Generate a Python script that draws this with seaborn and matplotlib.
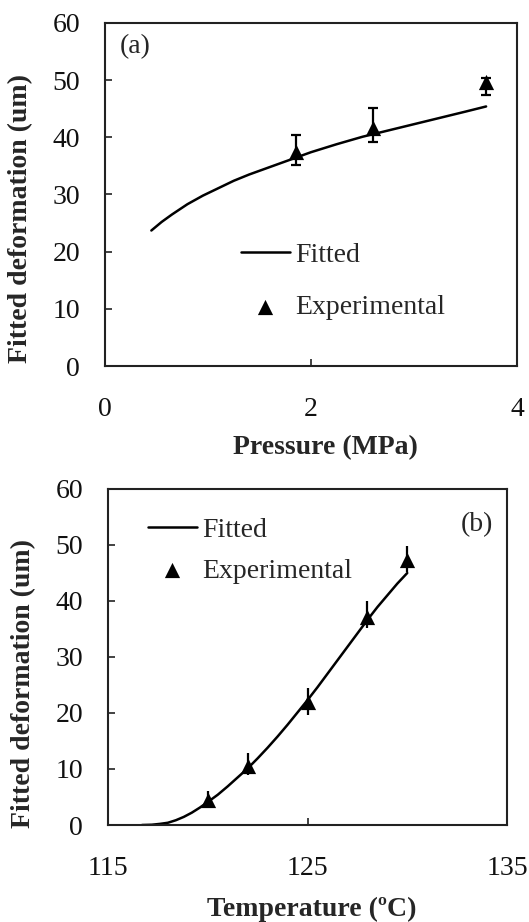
import numpy as np
import pandas as pd
import matplotlib
matplotlib.use("Agg")
import matplotlib.pyplot as plt
import seaborn as sns

# ---------------- data (a) ----------------
pressure_fit = [0.45, 0.55, 0.65, 0.8, 0.95, 1.1, 1.25, 1.4, 1.6, 1.8, 2.0, 2.25, 2.5, 2.75, 3.0, 3.25, 3.5, 3.7]
deform_fit_a = [23.7, 25.2, 26.5, 28.3, 29.8, 31.1, 32.4, 33.5, 34.8, 36.1, 37.4, 38.8, 40.1, 41.2, 42.3, 43.4, 44.5, 45.4]
pressure_exp = [1.85, 2.6, 3.7]
deform_exp_a = [37.4, 41.6, 49.7]
err_low_a = [2.2, 2.5, 2.3]
err_high_a = [3.0, 3.5, 0.6]

# ---------------- data (b) ----------------
temp_fit = [116.7, 117.2, 117.6, 118.0, 118.4, 118.8, 119.2, 119.6, 120.0, 120.5, 121.0, 121.5, 122.0,
            122.5, 123.0, 123.5, 124.0, 124.5, 125.0, 125.5, 126.0, 126.5, 127.0, 127.5, 128.0,
            128.5, 129.0, 129.5, 130.0]
deform_fit_b = [0.0, 0.05, 0.2, 0.4, 0.85, 1.45, 2.2, 3.1, 4.1, 5.4, 6.9, 8.5, 10.1,
                11.9, 13.8, 15.8, 17.9, 20.1, 22.3, 24.6, 27.0, 29.4, 31.8, 34.2, 36.6,
                38.9, 41.0, 43.1, 45.0]
temp_exp = [120, 122, 125, 128, 130]
deform_exp_b = [4.5, 10.5, 22.0, 37.2, 47.3]
err_low_b = [1.0, 1.6, 2.4, 2.1, 2.1]
err_high_b = [1.5, 2.3, 2.5, 2.8, 2.5]

x_ticks_a = [0, 2, 4]
x_ticks_b = [115, 125, 135]
y_ticks = [0, 10, 20, 30, 40, 50, 60]

sns.set_style("ticks")
plt.rcParams['font.family'] = ['Liberation Serif', 'DejaVu Serif']
plt.rcParams['axes.edgecolor'] = '#222222'
plt.rcParams['axes.linewidth'] = 1.5

FS = 20
fig = plt.figure(figsize=(5.29, 9.22), dpi=100)
W, H = 529, 922

def axes_px(left, right, top, bottom):
    return fig.add_axes([left / W, 1 - bottom / H, (right - left) / W, (bottom - top) / H])

ax1 = axes_px(105, 517, 23, 366)
ax2 = axes_px(108, 507, 489, 825)

def style(ax, xticks, xlim):
    ax.set_xlim(*xlim)
    ax.set_ylim(0, 60)
    ax.set_xticks(xticks)
    ax.set_yticks(y_ticks)
    for s in ax.spines.values():
        s.set_visible(True)
        s.set_linewidth(1.5)
        s.set_color('#222222')
    ax.tick_params(axis='both', direction='in', length=5, width=1.2, colors='#222222',
                   labelsize=FS, labelcolor='#111111')
    ax.tick_params(axis='x', pad=22)
    ax.tick_params(axis='y', pad=18)

# panel (a)
sns.lineplot(x=pressure_fit, y=deform_fit_a, ax=ax1, color='black', linewidth=1.8, label='Fitted')
ax1.errorbar(pressure_exp, deform_exp_a, yerr=[err_low_a, err_high_a], fmt='none',
             ecolor='black', elinewidth=1.6, capsize=3.5, capthick=1.6)
sns.scatterplot(x=pressure_exp, y=deform_exp_a, ax=ax1, marker='^', s=120, color='black',
                edgecolor='black', linewidth=0, label='Experimental', zorder=5)
style(ax1, x_ticks_a, (0, 4))
ax1.set_xlabel('Pressure (MPa)', fontsize=FS, fontweight='bold')
ax1.set_ylabel('Fitted deformation (um)', fontsize=FS, fontweight='bold')
ax1.xaxis.set_label_coords(0.534, -0.2)
ax1.yaxis.set_label_coords(-0.175, 0.43)
ax1.text(0.035, 0.93, '(a)', transform=ax1.transAxes, fontsize=FS, ha='left', va='center')
ax1.legend(frameon=False, fontsize=FS, loc='upper left', bbox_to_anchor=(0.33, 0.36),
           borderaxespad=0, borderpad=0, handlelength=1.75, handletextpad=0.2, labelspacing=0.95)

# panel (b)
sns.lineplot(x=temp_fit, y=deform_fit_b, ax=ax2, color='black', linewidth=1.8, label='Fitted')
ax2.errorbar(temp_exp, deform_exp_b, yerr=[err_low_b, err_high_b], fmt='none',
             ecolor='black', elinewidth=1.6, capsize=0)
sns.scatterplot(x=temp_exp, y=deform_exp_b, ax=ax2, marker='^', s=120, color='black',
                edgecolor='black', linewidth=0, label='Experimental', zorder=5)
style(ax2, x_ticks_b, (115, 135))
ax2.set_xlabel('Temperature (ºC)', fontsize=FS, fontweight='bold')
ax2.set_ylabel('Fitted deformation (um)', fontsize=FS, fontweight='bold')
ax2.xaxis.set_label_coords(0.51, -0.215)
ax2.yaxis.set_label_coords(-0.18, 0.42)
ax2.text(0.965, 0.895, '(b)', transform=ax2.transAxes, fontsize=FS, ha='right', va='center')
ax2.legend(frameon=False, fontsize=FS, loc='upper left', bbox_to_anchor=(0.1, 0.915),
           borderaxespad=0, borderpad=0, handlelength=1.75, handletextpad=0.2, labelspacing=0.55)

fig.savefig('out.png', dpi=100)
